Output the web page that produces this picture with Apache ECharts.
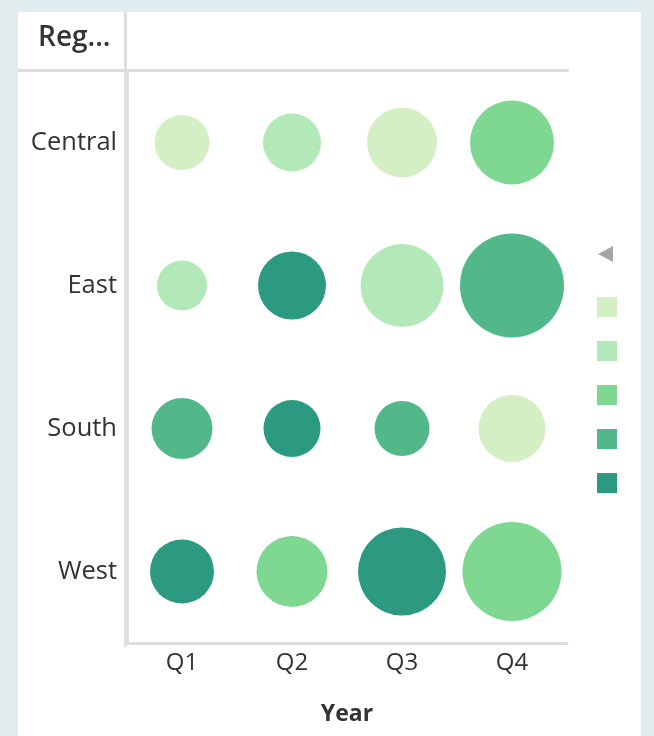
<!DOCTYPE html>
<html>
<head>
    <meta charset="utf-8">
    <title>Region by quarter</title>
    <script src="https://cdn.jsdelivr.net/npm/echarts@6/dist/echarts.min.js"></script>
    <style>
        html, body { margin: 0; padding: 0; background: #e1ecee; }
        #chart { width: 654px; height: 736px; }
    </style>
</head>
<body>
    <div id="chart"></div>
<script type="text/javascript">
    // categories
    var quarters = ['Q1', 'Q2', 'Q3', 'Q4'];
    var regions = ['Central', 'East', 'South', 'West'];
    // bubble size measure (per region, Q1..Q4)
    var sales = {
        Central: [756, 841, 1225, 1764],
        East: [625, 1156, 1722, 2704],
        South: [930, 812, 756, 1122],
        West: [1024, 1260, 1936, 2450]
    };
    // colour measure (per region, Q1..Q4)
    var profit = {
        Central: [8, 15, 6, 25],
        East: [14, 48, 12, 35],
        South: [33, 45, 36, 4],
        West: [42, 22, 50, 27]
    };
    var binColors = ['#d3efc3', '#b3e8b8', '#7ed891', '#53b889', '#2b9a81'];

    var points = [];
    regions.forEach(function (r, ri) {
        quarters.forEach(function (q, qi) {
            points.push([qi, ri, sales[r][qi], profit[r][qi]]);
        });
    });

    var myChart = echarts.init(document.getElementById('chart'));
    var lineStyle = { color: '#dedede', width: 3 };
    var txt = '#333';
    var font = '"Open Sans", "Noto Sans", sans-serif';

    myChart.setOption({
        backgroundColor: '#e1ecee',
        animation: false,
        textStyle: { fontFamily: font },
        graphic: [
            { type: 'rect', z: -10, shape: { x: 18, y: 12, width: 623, height: 740 }, style: { fill: '#ffffff' } },
            { type: 'line', shape: { x1: 125.5, y1: 12, x2: 125.5, y2: 647 }, style: { stroke: '#dedede', lineWidth: 3 } },
            { type: 'line', shape: { x1: 18, y1: 70.5, x2: 569, y2: 70.5 }, style: { stroke: '#dedede', lineWidth: 3 } },
            { type: 'text', left: 38, top: 24, style: { text: 'Reg...', fill: txt, font: '600 28px ' + font } },
            { type: 'polygon', shape: { points: [[598, 254], [613, 246], [613, 262]] }, style: { fill: '#a6a6a6' } }
        ],
        grid: { left: 127, right: 87, top: 71, bottom: 93 },
        xAxis: {
            type: 'category',
            data: quarters,
            name: 'Year',
            nameLocation: 'middle',
            nameGap: 60,
            nameTextStyle: { fontSize: 23, fontWeight: 'bold', color: txt, fontFamily: font },
            axisLine: { lineStyle: lineStyle },
            axisTick: { show: false },
            axisLabel: { fontSize: 24, color: txt, margin: 8, fontFamily: font },
            splitLine: { show: false }
        },
        yAxis: {
            type: 'category',
            data: regions,
            inverse: true,
            axisLine: { lineStyle: lineStyle },
            axisTick: { show: false },
            axisLabel: { fontSize: 25.5, color: txt, margin: 10, fontFamily: font },
            splitLine: { show: false }
        },
        visualMap: {
            type: 'piecewise',
            dimension: 3,
            seriesIndex: 0,
            orient: 'vertical',
            left: 597,
            top: 297,
            padding: 0,
            itemWidth: 20,
            itemHeight: 20,
            itemGap: 24,
            itemSymbol: 'rect',
            inverse: true,
            showLabel: false,
            textStyle: { color: 'rgba(0,0,0,0)' },
            pieces: [
                { min: 0, max: 10, color: binColors[0] },
                { min: 10, max: 20, color: binColors[1] },
                { min: 20, max: 30, color: binColors[2] },
                { min: 30, max: 40, color: binColors[3] },
                { min: 40, max: 60, color: binColors[4] }
            ]
        },
        series: [{
            type: 'scatter',
            data: points,
            symbolSize: function (v) { return Math.sqrt(v[2]) * 2; },
            itemStyle: { opacity: 1 }
        }]
    });
</script>
</body>
</html>
